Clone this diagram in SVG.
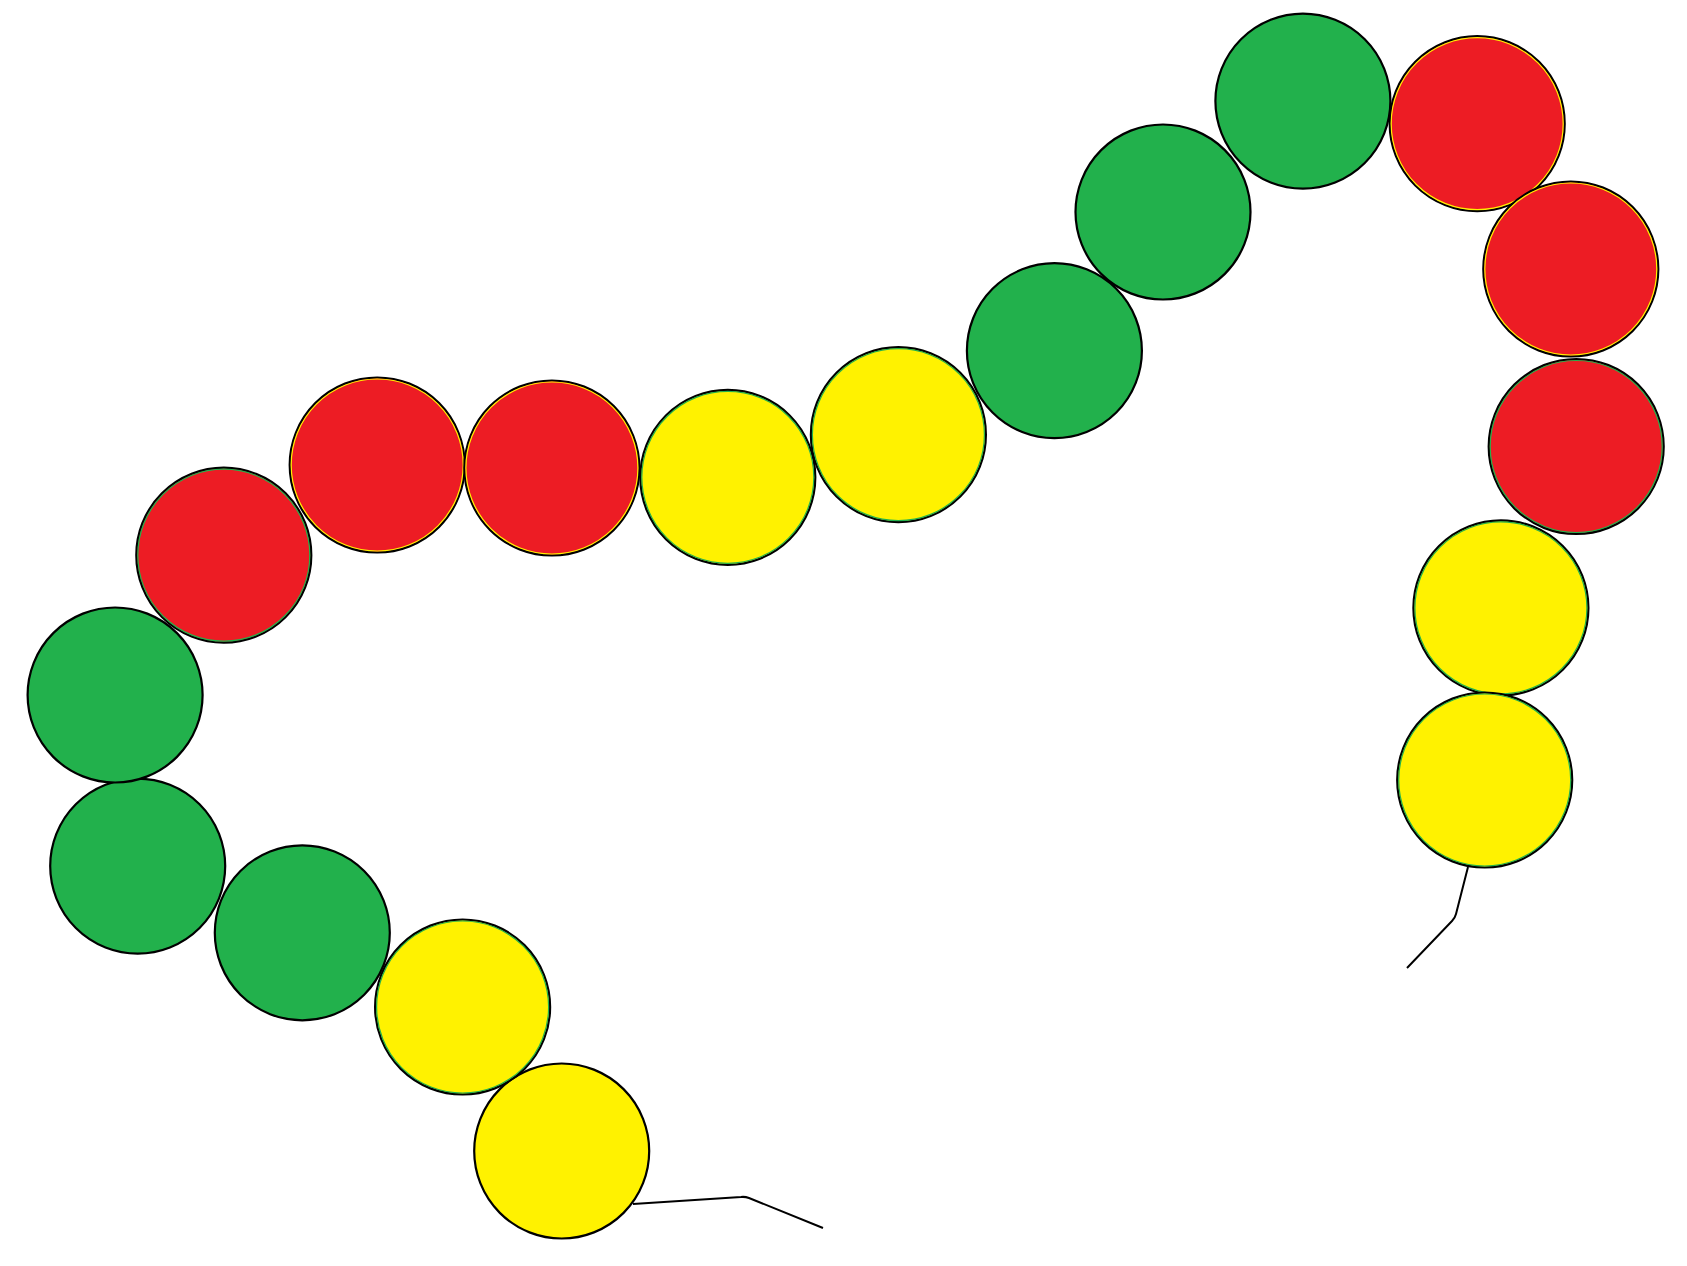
<svg xmlns="http://www.w3.org/2000/svg" width="1687" height="1266" viewBox="0 0 1687 1266">
<style>
.b{stroke:#000;stroke-width:2.2}
.y{fill:#FFF200}
.r{fill:#ED1C24}
.g{fill:#22B14C}
.iy{fill:none;stroke:#22B14C;stroke-width:1.2}
.ir{fill:none;stroke:#FFF200;stroke-width:1.2}
.ln{fill:none;stroke:#000;stroke-width:2;stroke-linejoin:round}
</style>
<rect width="1687" height="1266" fill="#fff"/>
<g id="connectors">
<path class="ln" d="M633,1204 L741,1197 Q745,1196.5 749,1198 L823,1228"/>
<path class="ln" d="M1468,867 L1456,914 Q1455,918 1452,921 L1407,968"/>
</g>
<g id="n1"><circle class="b y" cx="561.7" cy="1151" r="87.5"/></g>
<g id="n2"><circle class="b y" cx="462.6" cy="1007" r="87.5"/><circle class="iy" cx="462.6" cy="1007" r="86"/></g>
<g id="n3"><circle class="b g" cx="302.3" cy="932.8" r="87.5"/></g>
<g id="n4"><circle class="b g" cx="137.7" cy="866.1" r="87.5"/></g>
<g id="n5"><circle class="b g" cx="115.1" cy="695" r="87.5"/></g>
<g id="n6"><circle class="b r" cx="223.8" cy="555.2" r="87.5"/><circle fill="none" stroke="#22B14C" stroke-width="1.2" cx="223.8" cy="555.2" r="86"/></g>
<g id="n7"><circle class="b r" cx="377.2" cy="465" r="87.5"/><circle class="ir" cx="377.2" cy="465" r="86"/></g>
<g id="n8"><circle class="b r" cx="551.9" cy="468" r="87.5"/><circle class="ir" cx="551.9" cy="468" r="86"/></g>
<g id="n9"><circle class="b y" cx="727.8" cy="477.3" r="87.5"/><circle class="iy" cx="727.8" cy="477.3" r="86"/></g>
<g id="n10"><circle class="b y" cx="898.4" cy="434.7" r="87.5"/><circle class="iy" cx="898.4" cy="434.7" r="86"/></g>
<g id="n11"><circle class="b g" cx="1054.4" cy="350.7" r="87.5"/></g>
<g id="n12"><circle class="b g" cx="1163" cy="212" r="87.5"/></g>
<g id="n13"><circle class="b g" cx="1302.9" cy="101.1" r="87.5"/></g>
<g id="n14"><circle class="b r" cx="1477.2" cy="123.7" r="87.5"/><circle class="ir" cx="1477.2" cy="123.7" r="86"/></g>
<g id="n15"><circle class="b r" cx="1570.8" cy="269" r="87.5"/><circle class="ir" cx="1570.8" cy="269" r="86"/></g>
<g id="n16"><circle class="b r" cx="1576.2" cy="446.5" r="87.5"/><circle fill="none" stroke="#22B14C" stroke-width="1.2" cx="1576.2" cy="446.5" r="86"/></g>
<g id="n17"><circle class="b y" cx="1500.9" cy="607.9" r="87.5"/><circle class="iy" cx="1500.9" cy="607.9" r="86"/></g>
<g id="n18"><circle class="b y" cx="1484.7" cy="780" r="87.5"/><circle class="iy" cx="1484.7" cy="780" r="86"/></g>
</svg>
